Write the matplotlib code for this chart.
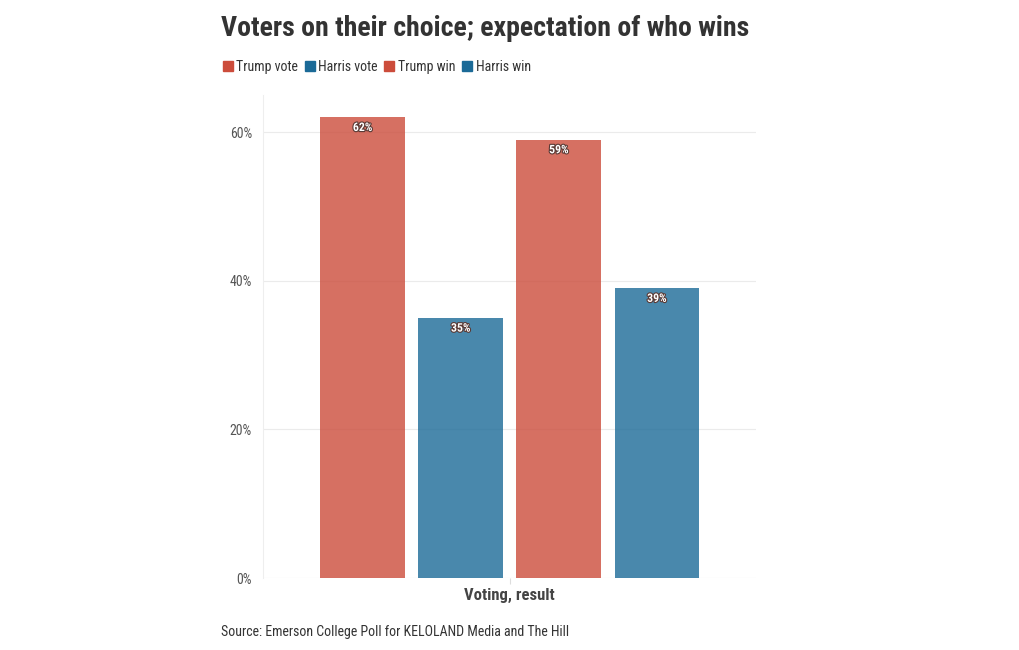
import matplotlib.pyplot as plt
import matplotlib.patheffects as pe
from matplotlib.lines import Line2D
import numpy as np

plt.rcParams["font.family"] = ["Roboto Condensed", "Roboto", "DejaVu Sans"]

series = ["Trump vote", "Harris vote", "Trump win", "Harris win"]
values = [62, 35, 59, 39]
category = "Voting, result"

red = "#cc4c3b"
blue = "#1b6a97"
colors = [red, blue, red, blue]

fig = plt.figure(figsize=(10.2, 6.5), dpi=100)
ax = fig.add_axes([263 / 1020, 1 - 578 / 650, 493 / 1020, 483 / 650])

offsets = np.array([-0.298, -0.099, 0.100, 0.299])
bar_w = 0.172
ax.bar(offsets, values, bar_w, color=colors, alpha=0.8, zorder=2)

for x, v in zip(offsets, values):
    ax.text(x, v - 0.5, f"{v}%", ha="center", va="top", fontsize=8.5,
            fontweight="bold", color="white", zorder=3,
            path_effects=[pe.withStroke(linewidth=1.6, foreground="#5a3a35")])

ax.set_xlim(-0.5, 0.5)
ax.set_ylim(0, 65)
ax.set_yticks([0, 20, 40, 60])
ax.set_yticklabels(["0%", "20%", "40%", "60%"], fontsize=10, color="#555555")
ax.set_xticks([0])
ax.set_xticklabels([category], fontsize=12, fontweight="bold", color="#444444")
ax.tick_params(axis="y", length=0, pad=8)
ax.tick_params(axis="x", length=4, color="#dddddd", pad=3)
ax.grid(axis="y", color="#ebebeb", linewidth=0.8, zorder=0)
for s in ["top", "right", "bottom"]:
    ax.spines[s].set_visible(False)
ax.spines["left"].set_color("#eeeeee")

fig.text(221 / 1020, 1 - 28 / 650, "Voters on their choice; expectation of who wins",
         fontsize=20.1, fontweight="bold", color="#333333", va="center")

handles = [Line2D([0], [0], marker="s", linestyle="none", markersize=7.5,
                  markerfacecolor=c, markeredgecolor=c) for c in colors]
fig.legend(handles, series, loc="center left", bbox_to_anchor=(210 / 1020, 1 - 67 / 650),
           ncol=4, frameon=False, fontsize=10, handletextpad=0.25, columnspacing=0.45,
           handlelength=0.75, labelcolor="#333333")

fig.text(221 / 1020, 1 - 632 / 650, "Source: Emerson College Poll for KELOLAND Media and The Hill",
         fontsize=10, color="#333333", va="center")

fig.savefig("out.png", dpi=100)
